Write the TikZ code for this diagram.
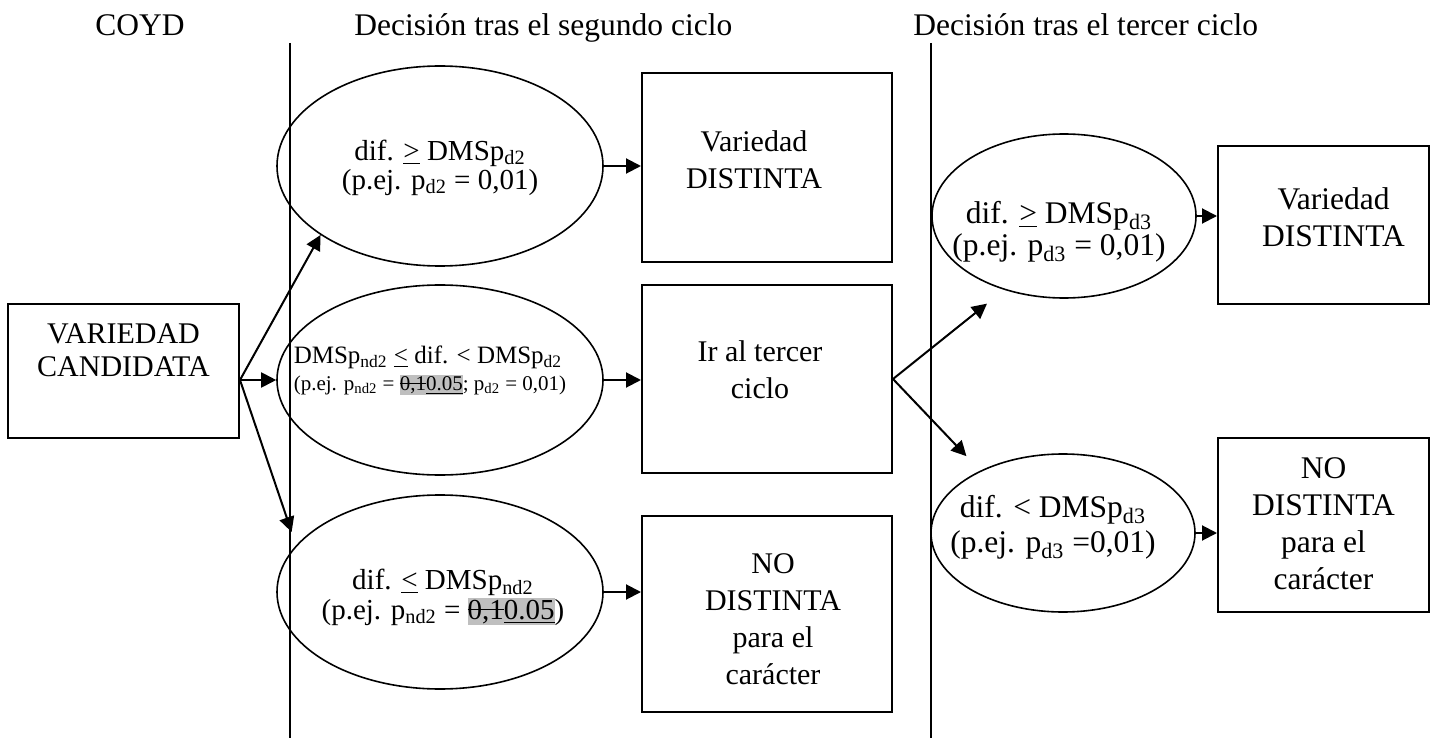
\documentclass[tikz,border=0pt]{standalone}
\usepackage{fontspec}
\setmainfont{Liberation Serif}
\usepackage{tikz}
\usetikzlibrary{shapes.geometric,arrows.meta}

\definecolor{resalte}{gray}{0.75}
% texto centrado dentro de una forma: desplazamiento x, elevacion, lineas
\newcommand{\texto}[3]{\makebox[0pt]{\hspace*{#1}\hspace*{#1}\raisebox{#2}[0pt][0pt]{\begin{tabular}{@{}c@{}}#3\end{tabular}}}}
\newcommand{\textoizq}[3]{\makebox[0pt]{\hspace*{#1}\hspace*{#1}\raisebox{#2}[0pt][0pt]{\begin{tabular}{@{}l@{}}#3\end{tabular}}}}
\newcommand{\mayor}{\underline{>}}
\newcommand{\menor}{\underline{<}}
\newcommand{\tachar}[1]{\setbox0\hbox{#1}\rlap{\rule[0.3em]{\wd0}{0.06em}}\box0}
\newcommand{\cambio}{{\setlength{\fboxsep}{0pt}\colorbox{resalte}{\vrule height 0.72em depth 0.2em width 0pt\tachar{0,1}\underline{0.05}}}}

\tikzset{
  caja/.style={draw, line width=1pt, inner sep=0pt, font=\fontsize{15}{18.5}\selectfont},
  cajader/.style={caja, minimum width=105.5pt, font=\fontsize{15.75}{18.5}\selectfont},
  ovalo/.style={draw, ellipse, line width=0.8pt, inner sep=0pt},
  flecha/.style={line width=1pt, -{Triangle[length=7.5pt,width=7.5pt]}},
  divisor/.style={line width=1pt},
  titulo/.style={inner sep=0pt, font=\fontsize{15.75}{18}\selectfont},
}

\begin{document}
\begin{tikzpicture}[x=0.5pt,y=-0.5pt]
    \useasboundingbox (0,0) rectangle (1436,738);

    % titulos y separadores
    \node[titulo, anchor=base] (coyd) at (140,36) {COYD};
    \node[titulo, anchor=base west] (ciclo2) at (354,36) {Decisión tras el segundo ciclo};
    \node[titulo, anchor=base west] (ciclo3) at (913,36) {Decisión tras el tercer ciclo};
    \draw[divisor] (290,43) -- (290,738);
    \draw[divisor] (931,43) -- (931,738);

    % COYD
    \node[caja, minimum width=115.5pt, minimum height=67pt, font=\fontsize{15}{16.5}\selectfont] (cand) at (123.5,371)
        {\texto{0pt}{5.3pt}{VARIEDAD\\CANDIDATA}};

    % segundo ciclo
    \node[ovalo, minimum width=163pt, minimum height=100pt, font=\fontsize{14.5}{14.2}\selectfont] (ovA) at (440,166)
        {\texto{0pt}{-5pt}{dif. \mayor{} DMSp\textsubscript{d2}\\(p.ej. p\textsubscript{d2} = 0,01)}};
    \node[ovalo, minimum width=163pt, minimum height=95pt, font=\fontsize{12.5}{13.5}\selectfont] (ovB) at (440,380)
        {\textoizq{-5pt}{1.3pt}{DMSp\textsubscript{nd2} \menor{} dif. < DMSp\textsubscript{d2}\\
        \fontsize{10.5}{12}\selectfont(p.ej. p\textsubscript{nd2} = \cambio; p\textsubscript{d2} = 0,01)}};
    \node[ovalo, minimum width=163pt, minimum height=97pt, font=\fontsize{14.5}{14}\selectfont] (ovC) at (440,592)
        {\texto{1.5pt}{-6.8pt}{dif. \menor{} DMSp\textsubscript{nd2}\\(p.ej. p\textsubscript{nd2} = \cambio)}};

    \node[caja, minimum width=125pt, minimum height=94.5pt] (boxA) at (767,167.5)
        {\texto{-6.5pt}{-1pt}{Variedad\\DISTINTA}};
    \node[caja, minimum width=125pt, minimum height=94pt] (boxB) at (767,379)
        {\texto{-3.5pt}{-0.3pt}{Ir al tercer\\ciclo}};
    \node[caja, minimum width=125pt, minimum height=98pt] (boxC) at (767,613.5)
        {\texto{3pt}{-7.5pt}{NO\\DISTINTA\\para el\\carácter}};

    % tercer ciclo
    \node[ovalo, minimum width=132pt, minimum height=82pt, font=\fontsize{15.75}{16}\selectfont] (ovD) at (1064,216)
        {\texto{-2.5pt}{-12.3pt}{dif. \mayor{} DMSp\textsubscript{d3}\\(p.ej. p\textsubscript{d3} = 0,01)}};
    \node[ovalo, minimum width=132pt, minimum height=79pt, font=\fontsize{15.75}{17.5}\selectfont] (ovE) at (1063,533)
        {\texto{-5pt}{-1.2pt}{dif. < DMSp\textsubscript{d3}\\(p.ej. p\textsubscript{d3} =0,01)}};

    \node[cajader, minimum height=79pt] (boxD) at (1323.5,225)
        {\texto{5pt}{-1.5pt}{Variedad\\DISTINTA}};
    \node[cajader, minimum height=87pt] (boxE) at (1323.5,525)
        {\texto{0pt}{-4.5pt}{NO\\DISTINTA\\para el\\carácter}};

    % flechas
    \coordinate (salida) at ([yshift=-4.5pt]cand.east);
    \draw[flecha] (salida) -- (ovA.210);
    \draw[flecha] (salida) -- (ovB.west);
    \draw[flecha, shorten >=7pt] (salida) -- (ovC.162);
    \draw[flecha] (ovA.east) -- (ovA.east -| boxA.west);
    \draw[flecha] (ovB.east) -- (ovB.east -| boxB.west);
    \draw[flecha] (ovC.east) -- (ovC.east -| boxC.west);
    \draw[flecha, shorten >=11pt] (boxB.east) -- (ovD.231);
    \draw[flecha, shorten >=10pt] (boxB.east) -- (ovE.143);
    \draw[flecha] (ovD.east) -- (ovD.east -| boxD.west);
    \draw[flecha] (ovE.east) -- (ovE.east -| boxE.west);
\end{tikzpicture}
\end{document}
